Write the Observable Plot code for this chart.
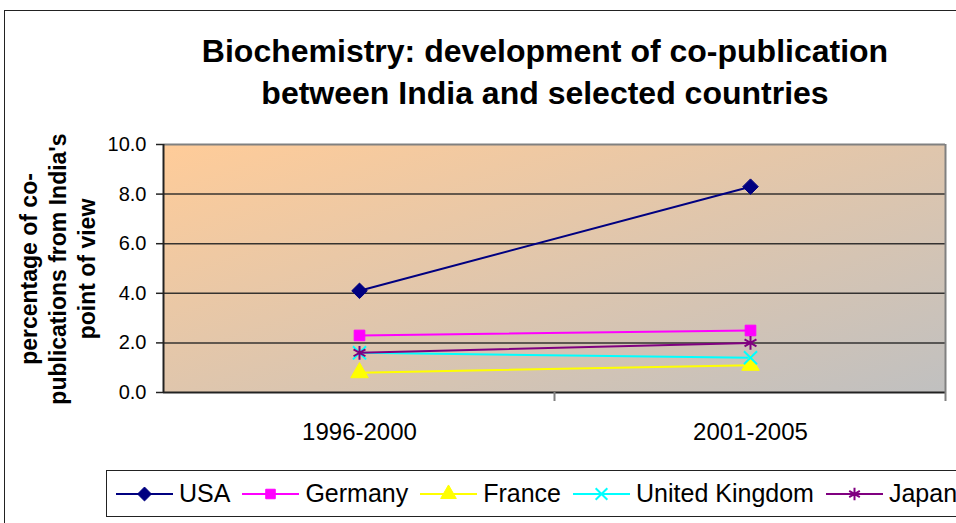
<!DOCTYPE html>
<html>
<head>
<meta charset="utf-8">
<script src="https://cdn.jsdelivr.net/npm/d3@7"></script>
<script src="https://cdn.jsdelivr.net/npm/@observablehq/plot@0.6"></script>
<style>
  html, body { margin:0; padding:0; background:#fff; overflow:hidden; }
  #wrap { position:relative; width:956px; height:523px; font-family:"Liberation Sans", Arial, sans-serif; }
  #border { position:absolute; left:4px; top:10px; width:1000px; height:600px; border:1.5px solid #222; box-sizing:border-box; }
  #title { position:absolute; left:145px; width:800px; top:30px; text-align:center; font-weight:bold; font-size:32px; line-height:42px; color:#000; }
  #ylabel { position:absolute; left:-95px; top:224px; width:310px; height:90px; transform:rotate(-90deg); text-align:center; font-weight:bold; font-size:23px; line-height:29px; color:#000; }
  #chart { position:absolute; left:0; top:0; }
  #legend { position:absolute; left:106px; top:470px; width:900px; height:47px; border:1.5px solid #222; box-sizing:border-box; background:#fff; display:flex; align-items:center; padding-left:9px; font-size:25px; color:#000; }
  .item { display:flex; align-items:center; margin-right:12px; }
  .item svg { margin-right:6px; }
</style>
</head>
<body>
<div id="wrap">
  <div id="border"></div>
  <div id="chart"></div>
  <div id="title">Biochemistry: development of co-publication<br>between India and selected countries</div>
  <div id="ylabel">percentage of co-<br>publications from India's<br>point of view</div>
  <div id="legend"></div>
</div>
<script>
const categories = ["1996-2000", "2001-2005"];
const seriesNames = ["USA", "Germany", "France", "United Kingdom", "Japan"];
const usa = [4.1, 8.3];
const germany = [2.3, 2.5];
const france = [0.8, 1.1];
const uk = [1.6, 1.4];
const japan = [1.6, 2.0];
const yTicks = [0, 2, 4, 6, 8, 10];
const colors = ["#000080", "#FF00FF", "#FFFF00", "#00FFFF", "#800080"];
const symbols = ["diamond2", "square", "triangle", "times", "asterisk"];
const filled = [true, true, true, false, false];
const radii = [7, 6, 6.5, 6, 6.5];

const valuesBySeries = [usa, germany, france, uk, japan];
const data = [];
seriesNames.forEach((s, i) => {
  categories.forEach((c, j) => data.push({series: s, period: c, value: valuesBySeries[i][j]}));
});

const defsMark = () => {
  const defs = d3.create("svg:defs");
  const g = defs.append("linearGradient").attr("id", "bg")
    .attr("x1", "0").attr("y1", "0").attr("x2", "1").attr("y2", "1");
  g.append("stop").attr("offset", "0%").attr("stop-color", "#FFCC99");
  g.append("stop").attr("offset", "100%").attr("stop-color", "#C0C0C0");
  return defs.node();
};

// category separators and frame edges (derived from the scales)
const separators = (index, scales, values, dims) => {
  const xs = categories.map(c => scales.x(c));
  const step = xs[1] - xs[0];
  const bounds = [xs[0] - step / 2, ...xs.slice(1).map((x, i) => (x + xs[i]) / 2), xs[xs.length - 1] + step / 2];
  const y0 = scales.y(0);
  const yTop = scales.y(10);
  const g = d3.create("svg:g");
  bounds.slice(1).forEach((b, i) => {
    const last = i === bounds.length - 2;
    g.append("line").attr("x1", b).attr("x2", b)
      .attr("y1", last ? yTop : y0).attr("y2", y0 + 9)
      .attr("stroke", "#808080").attr("stroke-width", 2);
  });
  // y axis line at left frame edge
  g.append("line").attr("x1", bounds[0]).attr("x2", bounds[0])
    .attr("y1", yTop).attr("y2", y0 + 1)
    .attr("stroke", "#222").attr("stroke-width", 2);
  return g.node();
};

const marks = [
  defsMark,
  Plot.frame({fill: "url(#bg)", stroke: null}),
  Plot.gridY(yTicks.filter(d => d > 0 && d < 10), {stroke: "#222", strokeOpacity: 0.9, strokeWidth: 1.5}),
  Plot.ruleY([10], {stroke: "#808080", strokeWidth: 2}),
  Plot.ruleY([0], {stroke: "#222", strokeWidth: 2}),
  separators,
  Plot.axisY(yTicks, {tickSize: 7, tickPadding: 10, fontSize: 20, tickFormat: d => d.toFixed(1), stroke: "#222", strokeWidth: 1.5, fill: "#000"}),
  Plot.axisX({tickSize: 0, tickPadding: 30, fontSize: 24, fill: "#000"}),
];
seriesNames.forEach((s, i) => {
  const d = data.filter(r => r.series === s);
  marks.push(Plot.line(d, {x: "period", y: "value", stroke: colors[i], strokeWidth: 2}));
});
seriesNames.forEach((s, i) => {
  const d = data.filter(r => r.series === s);
  marks.push(Plot.dot(d, {
    x: "period", y: "value", symbol: () => symbols[i], r: radii[i],
    fill: filled[i] ? colors[i] : "none", stroke: colors[i], strokeWidth: filled[i] ? 1 : 2
  }));
});

const chart = Plot.plot({
  width: 956, height: 523,
  marginTop: 144, marginBottom: 131, marginLeft: 163, marginRight: 11,
  x: {type: "point", domain: categories, padding: 0.5, label: null, axis: null},
  y: {domain: [0, 10], label: null, axis: null},
  symbol: {type: "identity"},
  style: {fontFamily: "'Liberation Sans', Arial, sans-serif", background: "transparent", overflow: "visible"},
  marks
});
document.getElementById("chart").appendChild(chart);

// legend
const legend = d3.select("#legend");
const symMap = {diamond2: d3.symbolDiamond2, square: d3.symbolSquare, triangle: d3.symbolTriangle, times: d3.symbolTimes, asterisk: d3.symbolAsterisk};
seriesNames.forEach((s, i) => {
  const item = legend.append("div").attr("class", "item");
  const sw = item.append("svg").attr("width", 57).attr("height", 22);
  sw.append("line").attr("x1", 0).attr("x2", 57).attr("y1", 11).attr("y2", 11)
    .attr("stroke", colors[i]).attr("stroke-width", 2);
  sw.append("path").attr("transform", "translate(28.5,11)")
    .attr("d", d3.symbol(symMap[symbols[i]], Math.PI * radii[i] * radii[i] * 0.8)())
    .attr("fill", filled[i] ? colors[i] : "none")
    .attr("stroke", colors[i]).attr("stroke-width", filled[i] ? 1 : 2);
  item.append("span").text(s);
});
</script>
</body>
</html>
